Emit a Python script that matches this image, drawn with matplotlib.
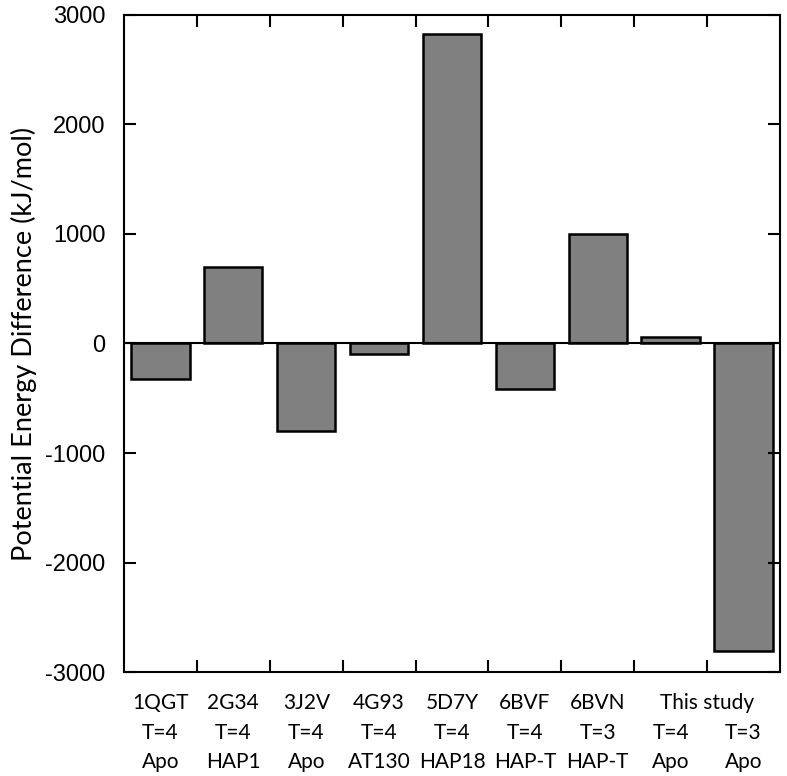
import matplotlib
matplotlib.use("Agg")
import matplotlib.pyplot as plt
import numpy as np

# Data
pdb_ids = ["1QGT", "2G34", "3J2V", "4G93", "5D7Y", "6BVF", "6BVN", "", ""]
t_numbers = ["T=4", "T=4", "T=4", "T=4", "T=4", "T=4", "T=3", "T=4", "T=3"]
ligands = ["Apo", "HAP1", "Apo", "AT130", "HAP18", "HAP-T", "HAP-T", "Apo", "Apo"]
energy_diff = [-320, 700, -800, -100, 2830, -420, 1000, 60, -2810]


def main():
    plt.rcParams["axes.unicode_minus"] = False

    fig = plt.figure(figsize=(7.87, 7.76), dpi=100)
    ax = fig.add_axes([0.1576, 0.134, 0.8334, 0.8467])

    x = np.arange(len(energy_diff))
    ax.bar(x, energy_diff, width=0.8, color="#808080", edgecolor="black", linewidth=1.8)
    ax.axhline(0, color="black", linewidth=1.5)

    ax.set_xlim(-0.5, len(energy_diff) - 0.5)
    ax.set_ylim(-3000, 3000)
    ax.set_yticks(np.arange(-3000, 3001, 1000))
    ax.set_xticks(np.arange(0.5, len(energy_diff) - 1, 1.0))
    ax.set_xticklabels([])

    ax.tick_params(axis="both", direction="in", length=8.5, width=1.5,
                   top=True, right=True, labelsize=17, pad=13.5)
    ax.tick_params(axis="x", labelbottom=False)
    for lbl in ax.get_yticklabels():
        lbl.set_family("Liberation Sans")
    for s in ax.spines.values():
        s.set_linewidth(1.5)

    ax.set_ylabel("Potential Energy Difference (kJ/mol)", fontsize=19.5,
                  family="Lato", labelpad=6)

    # Three-line category labels under the bars
    trans = ax.get_xaxis_transform()
    lab_font = dict(fontsize=15, family="Lato", ha="center", va="center")
    for i in range(len(energy_diff)):
        if pdb_ids[i]:
            ax.text(x[i], -0.047, pdb_ids[i], transform=trans, **lab_font)
        ax.text(x[i], -0.093, t_numbers[i], transform=trans, **lab_font)
        ax.text(x[i], -0.137, ligands[i], transform=trans, **lab_font)
    ax.text(7.5, -0.047, "This study", transform=trans, **lab_font)

    fig.savefig("out.png", dpi=100)


if __name__ == "__main__":
    main()
